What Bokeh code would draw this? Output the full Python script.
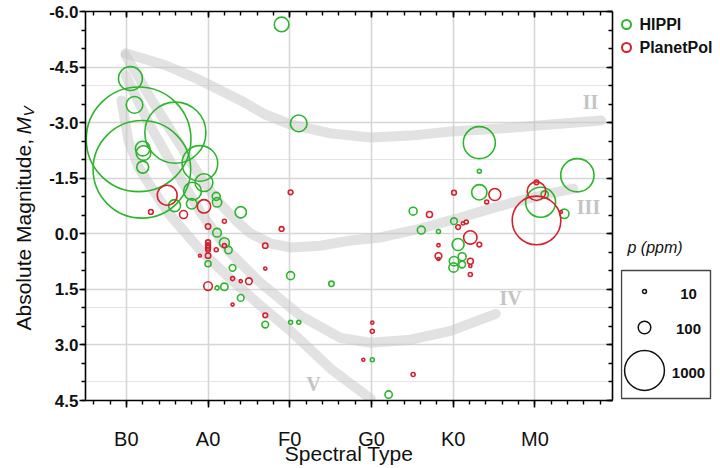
import numpy as np
from bokeh.plotting import figure
from bokeh.models import (ColumnDataSource, Range1d, LinearAxis, FixedTicker,
                          PrintfTickFormatter, Label, Grid)
from bokeh.core.properties import value
from bokeh.layouts import row
from bokeh.embed import file_html
from bokeh.resources import INLINE

# Spectral type coded numerically: B0=0, A0=10, F0=20, G0=30, K0=40, M0=50
spectral_ticks = [0, 10, 20, 30, 40, 50]
spectral_labels = ["B0", "A0", "F0", "G0", "K0", "M0"]
mag_ticks = [-6.0, -4.5, -3.0, -1.5, 0.0, 1.5, 3.0, 4.5]

# HIPPI stars: spectral type, absolute magnitude, polarization p (ppm)
hippi_sp = [0.5, 1.0, 1.5, 1.9, 6.0, 9.0, 2.0, 2.1, 2.0, 9.5, 8.1, 8.0, 5.9, 11.0,
            11.1, 14.0, 11.1, 12.0, 12.5, 10.0, 13.0, 11.1, 12.0, 14.0, 20.1, 17.0,
            20.1, 21.1, 25.1, 30.1, 32.1, 19.0, 21.1, 43.2, 43.2, 35.1, 40.1, 36.1,
            38.2, 40.6, 41.1, 40.1, 41.1, 40.05, 43.2, 55.2, 50.7, 51.2, 53.6]
hippi_mv = [-4.19, -3.48, -2.55, -1.74, -2.73, -1.90, -2.30, -2.18, -1.80, -1.38,
            -1.15, -0.81, -0.76, -1.01, -0.85, -0.58, -0.03, 0.24, 0.44, 0.81, 0.92,
            1.46, 1.43, 1.73, 1.13, 2.45, 2.39, 2.39, 1.35, 3.40, 4.34, -5.65, -2.98,
            -1.69, -1.12, -0.61, -0.34, -0.10, -0.06, 0.29, 0.62, 0.74, 0.83, 0.91,
            -2.46, -1.58, -0.85, -1.06, -0.54]
hippi_p = [360, 175, 6900, 6000, 2350, 800, 135, 135, 90, 200, 200, 70, 90, 40,
           55, 80, 47, 63, 34, 23, 28, 10, 34, 28, 40, 28, 10, 10, 18, 10, 34, 135,
           175, 10, 148, 40, 28, 40, 10, 90, 40, 55, 28, 55, 645, 700, 567, 34, 55]

# PlanetPol stars
planetpol_sp = [5.0, 9.5, 3.0, 7.0, 20.1, 19.0, 12.0, 10.0, 10.0, 10.0, 10.0, 10.0,
                10.0, 9.0, 11.0, 12.0, 17.0, 17.0, 10.0, 13.0, 14.0, 15.0, 13.0, 17.0,
                30.1, 30.1, 29.0, 35.1, 45.1, 44.1, 40.1, 37.1, 40.6, 41.2, 41.6, 42.1,
                43.2, 38.2, 38.2, 38.2, 42.1, 42.1, 42.1, 50.2, 50.2, 50.2, 53.2]
planetpol_mv = [-1.04, -0.74, -0.59, -0.52, -1.12, -0.13, -0.34, -0.20, 0.23, 0.31,
                0.38, 0.44, 0.59, 0.59, 0.43, 0.32, 0.32, 0.94, 1.41, 1.21, 1.28, 1.28,
                1.91, 2.20, 2.40, 2.63, 3.40, 3.80, -1.06, -0.86, -1.11, -0.52, -0.18,
                -0.28, -0.32, 0.10, 0.29, 0.31, 0.60, 0.68, 0.74, 0.87, 1.10, -0.36,
                -1.15, -1.39, -0.59]
planetpol_p = [250, 113, 14, 40, 14, 14, 10, 18, 15, 15, 15, 12, 18, 5, 10, 10, 18,
               6, 47, 10, 6, 28, 6, 14, 6, 10, 6, 10, 90, 10, 14, 23, 14, 7, 10, 113,
               14, 7, 28, 6, 23, 6, 10, 1490, 218, 14, 5]

# Luminosity class loci (II, III, IV, V)
class_II_sp = [-0.1, 4.8, 9.1, 14.0, 17.0, 20.1, 25.0, 29.9, 34.8, 39.7, 45.8, 51.9, 58.1]
class_II_mv = [-4.87, -4.55, -4.14, -3.60, -3.22, -2.95, -2.71, -2.60, -2.65, -2.76,
               -2.84, -2.95, -3.06]
class_III_sp = [-0.1, 1.35, 2.9, 4.8, 7.0, 9.1, 11.1, 13.4, 15.2, 17.6, 20.1, 23.8,
                27.4, 31.1, 36.0, 39.7, 44.6, 48.3, 51.9, 54.7]
class_III_mv = [-4.82, -4.28, -3.68, -3.01, -2.25, -1.52, -0.90, -0.36, -0.01, 0.26,
                0.37, 0.32, 0.18, 0.10, -0.14, -0.36, -0.68, -0.90, -1.09, -1.22]
class_IV_sp = [-0.1, 2.9, 6.0, 9.1, 12.7, 16.4, 21.3, 26.2, 29.9, 34.8, 39.7, 45.2]
class_IV_mv = [-4.28, -2.92, -1.71, -0.57, 0.51, 1.32, 2.21, 2.81, 2.94, 2.86, 2.62, 2.16]
class_V_sp = [-0.6, 0.24, 1.5, 2.9, 5.4, 9.1, 12.7, 16.4, 20.1, 25.0, 29.9]
class_V_mv = [-3.60, -2.52, -1.79, -1.30, -0.49, 0.45, 1.21, 1.94, 2.62, 3.64, 4.45]

legend_p = [10, 100, 1000]

GREEN = "#2db52d"
RED = "#d4202f"
FONT = "Liberation Sans"
BAND_TEXT = "#c4c4c4"
INK = "#111111"

# page geometry: plot frame spans rows 11..400 of the 468 px page
TOP, BOTTOM = 11, 400


def marker_size(ppm):
    # marker diameter in pixels grows with the square root of p
    return [1.26 * np.sqrt(v) for v in ppm]


def side_panel(width):
    # side strips share the main frame's rows, so their y range is page pixels
    f = figure(width=width, height=468, x_range=Range1d(0, width),
               y_range=Range1d(BOTTOM, TOP), x_axis_location=None, y_axis_location=None,
               min_border=0, toolbar_location=None, output_backend="svg")
    f.grid.visible = False
    f.outline_line_color = None
    return f


p = figure(frame_width=527, frame_height=BOTTOM - TOP,
           min_border_left=45, min_border_right=8, min_border_top=TOP,
           min_border_bottom=468 - BOTTOM,
           x_range=Range1d(-5, 59.5), y_range=Range1d(4.5, -6.0),
           x_axis_location=None, y_axis_location=None,
           toolbar_location=None, output_backend="svg")
p.outline_line_color = None

x_ticker = FixedTicker(ticks=spectral_ticks, minor_ticks=list(range(-4, 60, 2)))
y_ticker = FixedTicker(ticks=mag_ticks, minor_ticks=[float(v) for v in np.arange(-6.0, 4.51, 0.5)])

p.add_layout(Grid(dimension=0, ticker=x_ticker, grid_line_color="#d6d6d6", grid_line_width=1.6))
p.add_layout(Grid(dimension=1, ticker=y_ticker, grid_line_color="#d6d6d6", grid_line_width=1.6))

axis_style = dict(axis_line_width=1.6, axis_line_color="black",
                  major_tick_line_width=1.6, minor_tick_line_width=1.4,
                  major_tick_line_color="black", minor_tick_line_color="black")

xax = LinearAxis(ticker=x_ticker,
                 major_label_overrides={t: l for t, l in zip(spectral_ticks, spectral_labels)},
                 major_tick_out=7, major_tick_in=0, minor_tick_out=4, minor_tick_in=0,
                 major_label_standoff=20, major_label_text_font=FONT,
                 major_label_text_font_size="20px", major_label_text_color=INK,
                 axis_label="Spectral Type", axis_label_standoff=-11,
                 axis_label_text_font=FONT, axis_label_text_font_size="21px",
                 axis_label_text_font_style="normal", axis_label_text_color=INK,
                 **axis_style)
p.add_layout(xax, "below")

yax = LinearAxis(ticker=y_ticker, formatter=PrintfTickFormatter(format="%.1f"),
                 major_tick_out=6, major_tick_in=0, minor_tick_out=4, minor_tick_in=0,
                 major_label_standoff=1, major_label_text_font=FONT,
                 major_label_text_font_size="17px", major_label_text_font_style="bold",
                 major_label_text_color=INK, **axis_style)
p.add_layout(yax, "left")

top = LinearAxis(ticker=x_ticker, major_label_overrides={t: "" for t in spectral_ticks},
                 major_tick_out=0, major_tick_in=6, minor_tick_out=0, minor_tick_in=4,
                 major_label_standoff=0, **axis_style)
p.add_layout(top, "above")

right = LinearAxis(ticker=y_ticker, major_label_overrides={t: "" for t in mag_ticks},
                   major_tick_out=0, major_tick_in=6, minor_tick_out=0, minor_tick_in=4,
                   major_label_standoff=0, **axis_style)
p.add_layout(right, "right")

# luminosity class loci
for xs, ys in [(class_II_sp, class_II_mv), (class_III_sp, class_III_mv),
               (class_IV_sp, class_IV_mv), (class_V_sp, class_V_mv)]:
    p.line(xs, ys, line_color="#c6c6c6", line_alpha=0.5, line_width=10,
           line_cap="round", line_join="round")

band_labels = [("II", 505, 299), ("III", 503, 194), ("IV", 425, 103), ("V", 228, 17)]
for txt, sx, sy in band_labels:
    p.add_layout(Label(x=sx, y=sy, x_units="screen", y_units="screen", text=txt,
                       text_font="Liberation Serif", text_font_style="bold",
                       text_font_size="20px", text_color=BAND_TEXT,
                       text_align="center", text_baseline="middle"))

hippi = ColumnDataSource(dict(sp=hippi_sp, mv=hippi_mv, size=marker_size(hippi_p)))
planetpol = ColumnDataSource(dict(sp=planetpol_sp, mv=planetpol_mv, size=marker_size(planetpol_p)))

p.scatter("sp", "mv", size="size", source=hippi, marker="circle",
          fill_color=None, line_color=GREEN, line_width=1.6)
p.scatter("sp", "mv", size="size", source=planetpol, marker="circle",
          fill_color=None, line_color=RED, line_width=1.6)

# left strip: vertical title "Absolute Magnitude, M_V"
ylab = side_panel(40)
ylab.text(x=[23], y=[330], text=["Absolute Magnitude,"], angle=np.pi / 2,
          text_font=value(FONT), text_font_size="21px", text_color=INK,
          text_align="left", text_baseline="middle")
ylab.text(x=[23], y=[134], text=["M"], angle=np.pi / 2,
          text_font=value(FONT), text_font_size="21px", text_font_style="italic",
          text_color=INK, text_align="left", text_baseline="middle")
ylab.text(x=[28], y=[116], text=["V"], angle=np.pi / 2,
          text_font=value(FONT), text_font_size="15px", text_font_style="italic",
          text_color=INK, text_align="left", text_baseline="middle")

# right strip: series key and marker size key
leg = side_panel(100)
leg.scatter(x=[6, 6], y=[24, 47], size=9, marker="circle", fill_color=None,
            line_color=[GREEN, RED], line_width=2)
leg.text(x=[19, 19], y=[24, 47], text=["HIPPI", "PlanetPol"],
         text_font=value(FONT), text_font_style="bold", text_font_size="16px",
         text_color=INK, text_baseline="middle", text_align="left")

leg.text(x=[7], y=[247], text=["p (ppm)"], text_font=value(FONT),
         text_font_style="italic", text_font_size="16px", text_color=INK,
         text_baseline="middle", text_align="left")
leg.quad(left=[1], right=[90], top=[270], bottom=[398], fill_color=None,
         line_color="#444444", line_width=1.4)
leg.scatter(x=[24, 24, 24], y=[291, 327, 370], size=marker_size(legend_p),
            marker="circle", fill_color=None, line_color=INK, line_width=1.5)
leg.text(x=[68, 68, 68], y=[293, 328, 372], text=[str(v) for v in legend_p],
         text_font=value(FONT), text_font_style="bold", text_font_size="15px",
         text_color=INK, text_baseline="middle", text_align="center")

layout = row(ylab, p, leg, spacing=0)
open("out.html", "w").write(file_html(layout, INLINE))
